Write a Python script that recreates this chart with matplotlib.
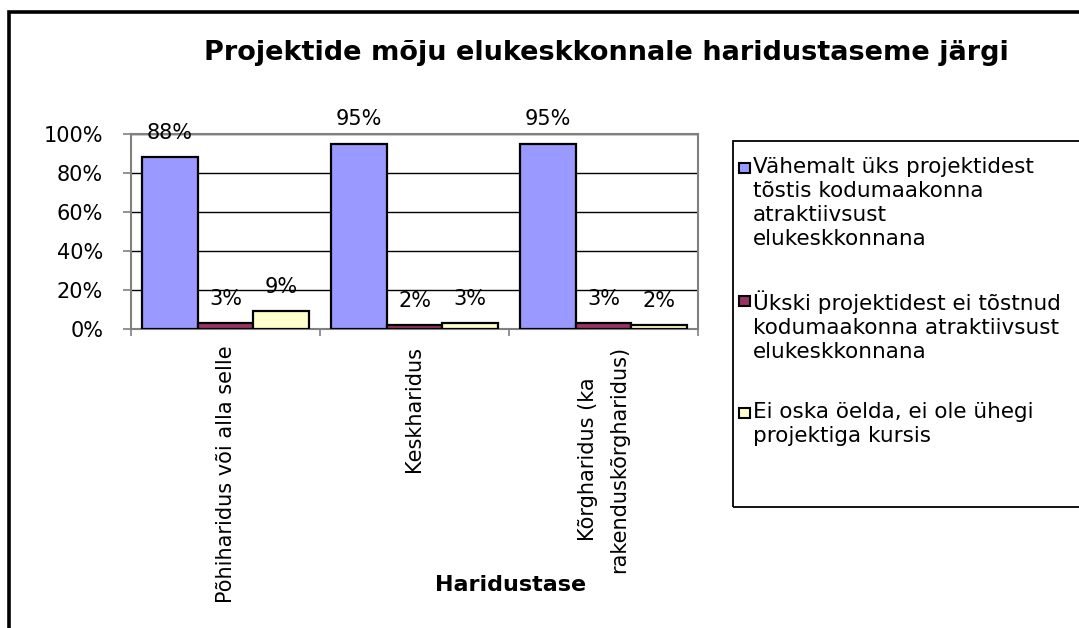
import matplotlib
matplotlib.use("Agg")
import matplotlib.pyplot as plt
from matplotlib.patches import Rectangle
import numpy as np

categories = ["Põhiharidus või alla selle", "Keskharidus", "Kõrgharidus (ka\nrakenduskõrgharidus)"]
series_names = [
    "Vähemalt üks projektidest\ntõstis kodumaakonna\natraktiivsust\nelukeskkonnana",
    "Ükski projektidest ei tõstnud\nkodumaakonna atraktiivsust\nelukeskkonnana",
    "Ei oska öelda, ei ole ühegi\nprojektiga kursis",
]
vahemalt = [88, 95, 95]
ukski = [3, 2, 3]
ei_oska = [9, 3, 2]
yticks = [0, 20, 40, 60, 80, 100]
title = "Projektide mõju elukeskkonnale haridustaseme järgi"
xlabel = "Haridustase"

colors = ["#9999FF", "#993366", "#FFFFCC"]
plt.rcParams['font.family'] = ['DejaVu Sans']

W, H = 1079, 628
fig = plt.figure(figsize=(W / 100, H / 100), dpi=100)

def fx(px):
    return px / W

def fy(py):
    return 1 - py / H

# outer border
fig.add_artist(Rectangle((fx(8.5), fy(700)), fx(1200), fy(11.5) - fy(700),
                         transform=fig.transFigure, fill=False, edgecolor="black",
                         linewidth=2.6, clip_on=False))

ax = fig.add_axes([fx(131), fy(329), fx(698) - fx(131), fy(134) - fy(329)])

series = [vahemalt, ukski, ei_oska]
n = len(categories)
x = np.arange(n) + 0.5
bw = 1 / 3.4
for i, (vals, c) in enumerate(zip(series, colors)):
    pos = x + (i - 1) * bw
    bars = ax.bar(pos, vals, width=bw, color=c, edgecolor="black", linewidth=1.6, zorder=3)
    for b, v in zip(bars, vals):
        ax.annotate(f"{v}%", (b.get_x() + b.get_width() / 2, v), xytext=(0, 10.5),
                    textcoords="offset points", ha="center", va="bottom", fontsize=15,
                    zorder=5, annotation_clip=False)

ax.set_xlim(0, n)
ax.set_ylim(0, 100)
ax.set_yticks(yticks)
ax.set_yticklabels([f"{t}%" for t in yticks], fontsize=15)
ax.yaxis.grid(True, color="black", linewidth=1.0, zorder=0)
ax.set_axisbelow(True)

ax.set_xticks(np.arange(n + 1))
ax.set_xticklabels([])
ax.set_xticks(x, minor=True)
labels = ax.set_xticklabels(categories, minor=True, rotation=90, fontsize=15,
                            va="top", ha="center", multialignment="center")
for lb in labels:
    lb.set_linespacing(1.75)
ax.tick_params(axis="x", which="major", direction="out", length=5, color="#808080", width=1.2)
ax.tick_params(axis="x", which="minor", length=0, pad=12)
ax.tick_params(axis="y", direction="out", length=6, color="#808080", width=1.2, pad=14)

for s in ax.spines.values():
    s.set_color("#808080")
    s.set_linewidth(1.5)

fig.text(fx(606), fy(53), title, ha="center", va="center", fontsize=19.5, fontweight="bold")
fig.text(fx(511), fy(585), xlabel, ha="center", va="center", fontsize=16, fontweight="bold")

# legend box
fig.add_artist(Rectangle((fx(733), fy(507)), fx(600), fy(141) - fy(507),
                         transform=fig.transFigure, fill=False, edgecolor="black",
                         linewidth=1.3, clip_on=False))
entry_top = [168, 301, 413]
for name, c, ty in zip(series_names, colors, entry_top):
    fig.add_artist(Rectangle((fx(739), fy(ty + 5)), fx(11), fy(ty - 5) - fy(ty + 5),
                             transform=fig.transFigure, facecolor=c, edgecolor="black",
                             linewidth=1.5))
    fig.text(fx(753), fy(ty - 11), name, ha="left", va="top", fontsize=15.5, linespacing=1.25)

fig.savefig("out.png", dpi=100)
